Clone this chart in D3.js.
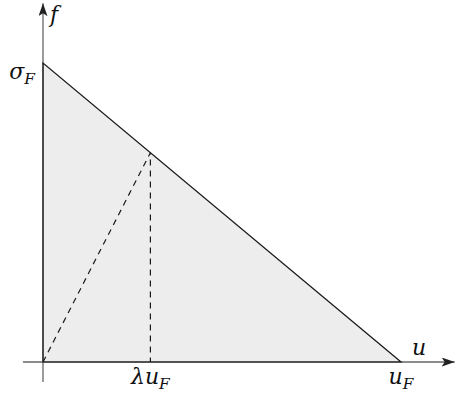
<!doctype html>
<html>
<head>
<style>
  body { margin: 0; background: #fff; }
  text { font-family: "DejaVu Serif", "Liberation Serif", serif; font-style: italic; fill: #111; }
</style>
<script src="https://d3js.org/d3.v7.min.js"></script>
</head>
<body>
<svg width="456" height="395"></svg>
<script>
// values in units of u_F and sigma_F
var uF = 1, sigmaF = 1, lambda = 0.3;
var triangle = [[0, 0], [0, sigmaF], [uF, 0]];
var uTicks = [lambda * uF, uF];
var uTickLabels = [["λu", "F"], ["u", "F"]];
var fTicks = [sigmaF];
var fTickLabels = [["σ", "F"]];
var uExtent = [-0.056, 1.15], fExtent = [-0.067, 1.2];

var svg = d3.select("svg");
var x = d3.scaleLinear().domain([0, 1]).range([43, 401]);
var y = d3.scaleLinear().domain([0, 1]).range([362, 63]);

var defs = svg.append("defs");
defs.append("marker")
    .attr("id", "arr")
    .attr("viewBox", "0 0 13 9")
    .attr("refX", 13).attr("refY", 4.5)
    .attr("markerWidth", 13).attr("markerHeight", 9)
    .attr("markerUnits", "userSpaceOnUse")
    .attr("orient", "auto")
  .append("path")
    .attr("d", "M0,0 L13,4.5 L0,9 L3,4.5 Z")
    .attr("fill", "#222");

var line = d3.line().x(function(d) { return x(d[0]); }).y(function(d) { return y(d[1]); });

// shaded triangle
svg.append("path")
   .attr("d", line(triangle) + "Z")
   .attr("fill", "#ededee");

// axes
svg.append("line")
   .attr("x1", x(uExtent[0])).attr("x2", x(uExtent[1]))
   .attr("y1", y(0)).attr("y2", y(0))
   .attr("stroke", "#666").attr("stroke-width", 1.3)
   .attr("marker-end", "url(#arr)");
svg.append("line")
   .attr("x1", x(0)).attr("x2", x(0))
   .attr("y1", y(fExtent[0])).attr("y2", y(fExtent[1]))
   .attr("stroke", "#666").attr("stroke-width", 1.3)
   .attr("marker-end", "url(#arr)");

// triangle edges
svg.append("path")
   .attr("d", line(triangle) + "Z")
   .attr("fill", "none")
   .attr("stroke", "#1a1a1a").attr("stroke-width", 1.2);

// dashed construction lines
var p = [lambda * uF, sigmaF * (1 - lambda)];
svg.append("path")
   .attr("d", line([[0, 0], p, [p[0], 0]]))
   .attr("fill", "none")
   .attr("stroke", "#1a1a1a").attr("stroke-width", 1.2)
   .attr("stroke-dasharray", "6,5");

function label(g, parts, size) {
    var t = g.append("text").attr("font-size", size);
    t.append("tspan").text(parts[0]);
    if (parts[1]) {
        t.append("tspan").attr("font-size", size * 0.7).attr("dy", 5).text(parts[1]);
    }
    return t;
}

// u tick labels
uTicks.forEach(function(v, i) {
    label(svg, uTickLabels[i], 22)
        .attr("x", x(v)).attr("y", 384)
        .attr("text-anchor", "middle");
});

// f tick labels
fTicks.forEach(function(v, i) {
    label(svg, fTickLabels[i], 22)
        .attr("x", 35).attr("y", y(v) + 16)
        .attr("text-anchor", "end");
});

// axis names
svg.append("text").attr("font-size", 22).attr("x", 412).attr("y", 355).text("u");
svg.append("text").attr("font-size", 22).attr("x", 50).attr("y", 22).text("f");
</script>
</body>
</html>
